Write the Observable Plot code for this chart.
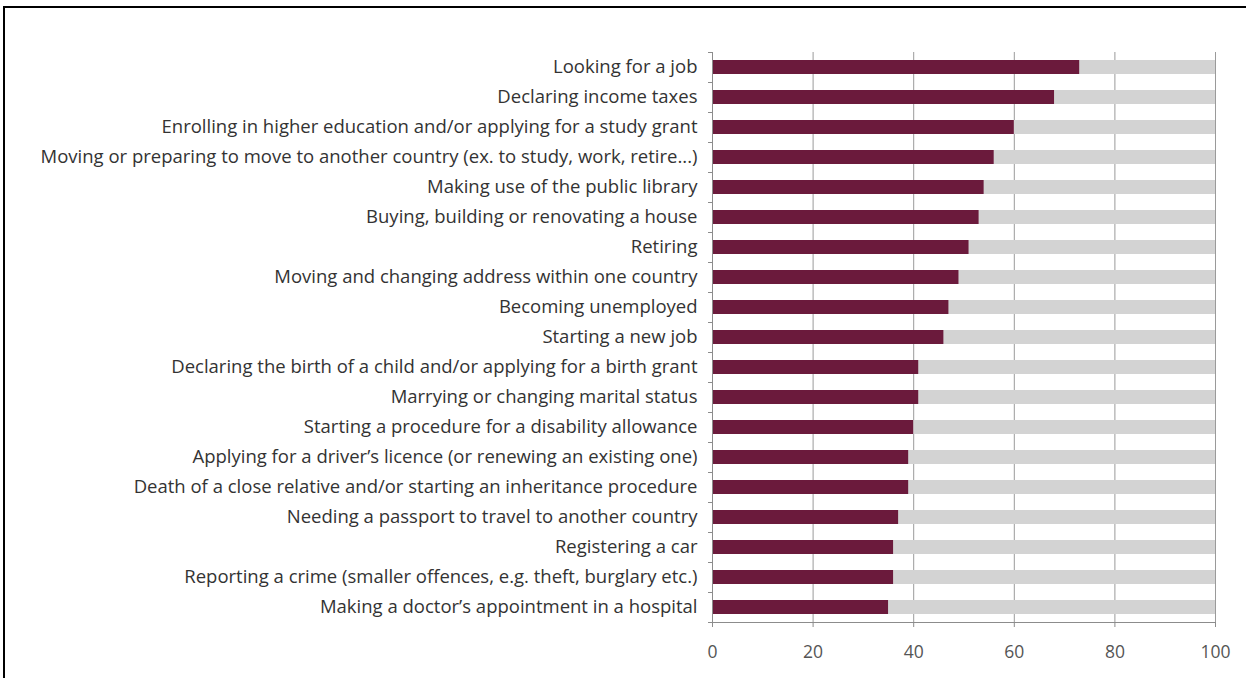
<!DOCTYPE html>
<html>
<head>
<meta charset="utf-8">
<script src="https://cdn.jsdelivr.net/npm/d3@7"></script>
<script src="https://cdn.jsdelivr.net/npm/@observablehq/plot@0.6"></script>
<style>
  html, body { margin: 0; padding: 0; background: #fff; overflow: hidden; }
  #frame {
    position: absolute; left: 3px; top: 6px;
    width: 1400px; height: 900px;
    border: 2px solid #000; box-sizing: border-box;
  }
  #chart { position: absolute; left: 0; top: 0; }
</style>
</head>
<body>
<div id="frame"></div>
<div id="chart"></div>
<script>
// Life events, share of respondents (%)
const events = [
  "Looking for a job",
  "Declaring income taxes",
  "Enrolling in higher education and/or applying for a study grant",
  "Moving or preparing to move to another country (ex. to study, work, retire...)",
  "Making use of the public library",
  "Buying, building or renovating a house",
  "Retiring",
  "Moving and changing address within one country",
  "Becoming unemployed",
  "Starting a new job",
  "Declaring the birth of a child and/or applying for a birth grant",
  "Marrying or changing marital status",
  "Starting a procedure for a disability allowance",
  "Applying for a driver\u2019s licence (or renewing an existing one)",
  "Death of a close relative and/or starting an inheritance procedure",
  "Needing a passport to travel to another country",
  "Registering a car",
  "Reporting a crime (smaller offences, e.g. theft, burglary etc.)",
  "Making a doctor\u2019s appointment in a hospital"
];
const shares = [73, 68, 60, 56, 54, 53, 51, 49, 47, 46, 41, 41, 40, 39, 39, 37, 36, 36, 35];
const fullScale = 100;
const xTicks = [0, 20, 40, 60, 80, 100];

const rows = events.map((event, i) => ({event, share: shares[i], total: fullScale}));
const labelFont = "'Open Sans', Lato, sans-serif";

const chart = Plot.plot({
  width: 1246,
  height: 678,
  marginLeft: 712,
  marginRight: 31,
  marginTop: 52,
  marginBottom: 56,
  style: {fontFamily: labelFont, background: "transparent", overflow: "visible"},
  x: {domain: [0, fullScale], axis: null},
  y: {domain: events, paddingInner: 0.52, paddingOuter: 0.26, axis: null, label: null},
  marks: [
    Plot.gridX({ticks: xTicks.slice(1), stroke: "#9a9a9a", strokeOpacity: 1}),
    Plot.barX(rows, {y: "event", x: "total", fill: "#d3d3d3"}),
    Plot.barX(rows, {y: "event", x: "share", fill: "#6b1a3c"}),
    Plot.frame({anchor: "left", stroke: "#8c8c8c"}),
    Plot.frame({anchor: "bottom", stroke: "#8c8c8c"}),
    // category boundary ticks on the left axis
    Plot.axisY(events, {tickSize: 4, tickFormat: () => "", dy: -15, stroke: "#8c8c8c"}),
    Plot.axisY(events.slice(-1), {tickSize: 4, tickFormat: () => "", dy: 15, stroke: "#8c8c8c"}),
    Plot.axisY(events, {tickSize: 0, tickPadding: 15, fontSize: 18.5, fill: "#333", label: null}),
    Plot.axisX(xTicks, {tickSize: 5, tickPadding: 18, fontSize: 17.5, fill: "#555", stroke: "#8c8c8c", label: null})
  ]
});
document.getElementById("chart").appendChild(chart);
</script>
</body>
</html>
